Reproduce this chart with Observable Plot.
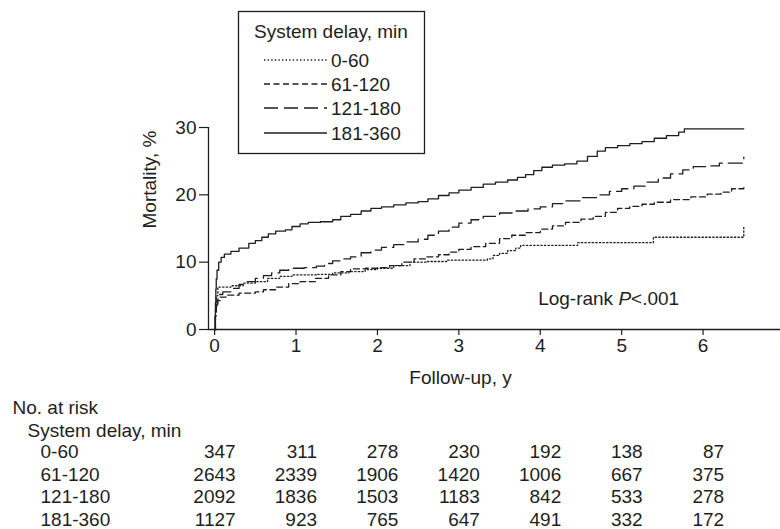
<!DOCTYPE html>
<html><head><meta charset="utf-8">
<script src="https://cdn.jsdelivr.net/npm/d3@7"></script>
<script src="https://cdn.jsdelivr.net/npm/@observablehq/plot@0.6"></script>
<style>
html,body{margin:0;padding:0;background:#fff;overflow:hidden}
#wrap{position:relative;width:780px;height:529px;overflow:hidden;background:#fff}
#wrap svg{display:block;max-width:none}
#legend{position:absolute;left:0;top:0}
</style></head><body><div id="wrap"></div>
<script>
// ---- data ----
const groups = ["0-60", "61-120", "121-180", "181-360"];
const dashes = ["1.4,2.2", "6,3.5", "14,6", null];
const legendTitle = "System delay, min";

// Kaplan-Meier cumulative mortality (%): [years, %]
const km0_60 = [[0,0],[0.01,3],[0.02,5],[0.04,6.3],[0.2,6.5],[0.35,6.9],[0.5,7.1],[0.65,7.6],[0.8,7.9],[0.95,8.1],[1.25,8.2],[1.45,8.4],[1.65,8.6],[1.85,8.9],[2.0,9.1],[2.2,9.5],[2.4,10],[2.6,10.1],[2.85,10.3],[3.35,10.5],[3.42,11],[3.5,11.3],[3.6,11.7],[3.7,12.1],[3.76,12.5],[4.46,12.9],[5.39,13.7],[6.5,13.7],[6.5,15.5]];
const km61_120 = [[0,0],[0.01,2],[0.02,3.5],[0.04,4.3],[0.07,4.8],[0.14,5.1],[0.3,5.4],[0.5,5.6],[0.6,5.9],[0.75,6.3],[0.91,6.8],[1.05,7.1],[1.24,7.6],[1.4,8.1],[1.55,8.6],[1.67,9.0],[1.85,9.1],[2.0,9.2],[2.15,9.5],[2.3,10],[2.45,10.5],[2.6,10.8],[2.75,11.1],[2.88,11.5],[3.0,11.9],[3.15,12.3],[3.33,12.8],[3.5,13.5],[3.65,14],[3.82,14.4],[4.0,14.9],[4.15,15.4],[4.31,15.9],[4.5,16.4],[4.65,16.8],[4.8,17.4],[4.95,18.0],[5.1,18.3],[5.25,18.6],[5.4,18.9],[5.6,19.3],[5.85,19.7],[6.05,20.1],[6.22,20.4],[6.35,20.9],[6.5,21.3]];
const km121_180 = [[0,0],[0.01,2],[0.02,3.5],[0.03,4.5],[0.05,5.2],[0.1,5.6],[0.2,6.1],[0.3,6.7],[0.4,7.1],[0.5,7.6],[0.6,8],[0.7,8.4],[0.8,8.8],[0.91,9.1],[1.1,9.2],[1.25,9.4],[1.35,9.8],[1.45,10.2],[1.55,10.5],[1.67,10.8],[1.8,11.4],[1.92,11.8],[2.05,12.2],[2.2,12.6],[2.35,13],[2.5,13.4],[2.62,14],[2.75,14.6],[2.88,15.2],[3.0,15.8],[3.15,16.3],[3.3,16.8],[3.5,17.3],[3.7,17.6],[3.85,17.9],[4.0,18.2],[4.15,18.7],[4.3,19.1],[4.5,19.6],[4.7,20],[4.85,20.5],[5.0,20.9],[5.15,21.3],[5.3,21.9],[5.45,22.5],[5.6,23.1],[5.75,23.7],[5.88,24.2],[6.05,24.3],[6.2,24.7],[6.5,24.8],[6.5,25.6]];
const km181_360 = [[0,0],[0.005,2],[0.01,4],[0.015,6],[0.02,7.5],[0.03,8.8],[0.05,10],[0.08,10.7],[0.12,11.2],[0.2,11.6],[0.3,12.1],[0.42,12.8],[0.5,13.2],[0.58,13.7],[0.66,14.2],[0.75,14.6],[0.87,14.8],[0.95,15.3],[1.05,15.7],[1.15,15.9],[1.3,16],[1.45,16.3],[1.55,16.8],[1.67,17.1],[1.8,17.6],[1.92,18],[2.05,18.2],[2.2,18.5],[2.35,18.8],[2.5,19],[2.62,19.4],[2.75,19.9],[2.88,20.3],[3.0,20.7],[3.15,21.1],[3.3,21.6],[3.45,21.9],[3.6,22.2],[3.72,22.6],[3.82,23],[3.92,23.6],[4.02,24.1],[4.15,24.4],[4.3,24.6],[4.45,25],[4.58,25.7],[4.7,26.5],[4.8,27],[4.95,27.3],[5.1,27.6],[5.25,27.9],[5.4,28.4],[5.55,28.8],[5.7,29.3],[5.77,29.8],[6.5,29.8]];

const riskTimes = [0, 1, 2, 3, 4, 5, 6];
const risk0_60 = [347, 311, 278, 230, 192, 138, 87];
const risk61_120 = [2643, 2339, 1906, 1420, 1006, 667, 375];
const risk121_180 = [2092, 1836, 1503, 1183, 842, 533, 278];
const risk181_360 = [1127, 923, 765, 647, 491, 332, 172];

const xTicks = [0, 1, 2, 3, 4, 5, 6, 7];
const yTicks = [0, 10, 20, 30];
const xLabel = "Follow-up, y";
const yLabel = "Mortality, %";
const pText = "Log-rank P<.001";
const riskHeader = "No. at risk";

// ---- build ----
const curves = [km0_60, km61_120, km121_180, km181_360];
const risks = [risk0_60, risk61_120, risk121_180, risk181_360];
const ink = "#1e1e1e";
const FS = 19;
const xMin = -0.075;
const frameBottom = 329;

const marks = [];
// axes lines
marks.push(Plot.ruleY([0], {stroke: ink, strokeWidth: 1.3}));
marks.push(Plot.ruleX([xMin], {stroke: ink, strokeWidth: 1.3}));
marks.push(Plot.axisX(xTicks, {label: null, tickSize: 6, tickPadding: 3, fontSize: FS, stroke: ink, fill: ink, tickFormat: d => String(d), strokeWidth: 1.2}));
marks.push(Plot.axisY(yTicks, {label: null, tickSize: 9, tickPadding: 3, fontSize: FS, stroke: ink, fill: ink, tickFormat: d => String(d), strokeWidth: 1.2}));

// curves
curves.forEach((c, i) => {
  marks.push(Plot.line(c, {x: d => d[0], y: d => d[1], curve: "step-after", stroke: ink, strokeWidth: 1.3,
    strokeDasharray: dashes[i] || undefined}));
});

// axis titles
marks.push(Plot.text([xLabel], {x: [3.02], frameAnchor: "bottom", lineAnchor: "bottom", dy: 54, fontSize: FS, fill: ink}));
marks.push(Plot.text([yLabel], {frameAnchor: "left", rotate: -90, dx: -59, fontSize: FS, fill: ink}));
// log-rank annotation
marks.push(Plot.text([pText], {x: [4.84], y: [3.71], lineAnchor: "bottom", fontSize: FS, fill: ink}));

// risk table
const rowBase = [457, 480, 502, 525];
marks.push(Plot.text([riskHeader], {frameAnchor: "bottom-left", textAnchor: "start", lineAnchor: "bottom", dx: 12 - 208, dy: 413 - frameBottom, fontSize: FS, fill: ink}));
marks.push(Plot.text([legendTitle], {frameAnchor: "bottom-left", textAnchor: "start", lineAnchor: "bottom", dx: 27 - 208, dy: 436 - frameBottom, fontSize: FS, fill: ink}));
groups.forEach((g, i) => {
  marks.push(Plot.text([g], {frameAnchor: "bottom-left", textAnchor: "start", lineAnchor: "bottom", dx: 40 - 208, dy: rowBase[i] - frameBottom, fontSize: FS, fill: ink}));
  const rows = riskTimes.map((t, j) => ({t, n: risks[i][j]}));
  marks.push(Plot.text(rows, {x: "t", text: d => String(d.n), frameAnchor: "bottom", textAnchor: "end", lineAnchor: "bottom", dx: 21, dy: rowBase[i] - frameBottom, fontSize: FS, fill: ink}));
});

const chart = Plot.plot({
  width: 800,
  height: 529,
  marginLeft: 208,
  marginRight: 16,
  marginTop: 127,
  marginBottom: 200,
  style: {fontFamily: "'Liberation Sans', Arial, sans-serif", fontSize: FS + "px", background: "#fff", color: ink, maxWidth: "none"},
  x: {domain: [xMin, 7], axis: null, label: null},
  y: {domain: [0, 30], axis: null, label: null},
  marks
});
const wrap = document.getElementById("wrap");
wrap.appendChild(chart);

// italic P in the log-rank annotation
d3.select(chart).selectAll("text").filter(function() { return this.textContent === pText; })
  .each(function() {
    const t = d3.select(this);
    t.text(null);
    t.append("tspan").text("Log-rank ");
    t.append("tspan").attr("font-style", "italic").text("P");
    t.append("tspan").text("<.001");
  });

// legend box
const lg = d3.select(wrap).append("svg").attr("id", "legend").attr("width", 780).attr("height", 170)
  .style("font-family", "'Liberation Sans', Arial, sans-serif").style("font-size", FS + "px");
lg.append("rect").attr("x", 238.5).attr("y", 11.5).attr("width", 186).attr("height", 142)
  .attr("fill", "#fff").attr("stroke", ink).attr("stroke-width", 1.3);
lg.append("text").attr("x", 254).attr("y", 38).attr("fill", ink).text(legendTitle);
const rowY = [60, 84, 108, 133];
groups.forEach((g, i) => {
  const ln = lg.append("line").attr("x1", 264).attr("x2", 327).attr("y1", rowY[i]).attr("y2", rowY[i])
    .attr("stroke", ink).attr("stroke-width", 1.3);
  if (dashes[i]) ln.attr("stroke-dasharray", dashes[i]);
  lg.append("text").attr("x", 331).attr("y", rowY[i] + 7).attr("fill", ink).text(g);
});
</script></body></html>
